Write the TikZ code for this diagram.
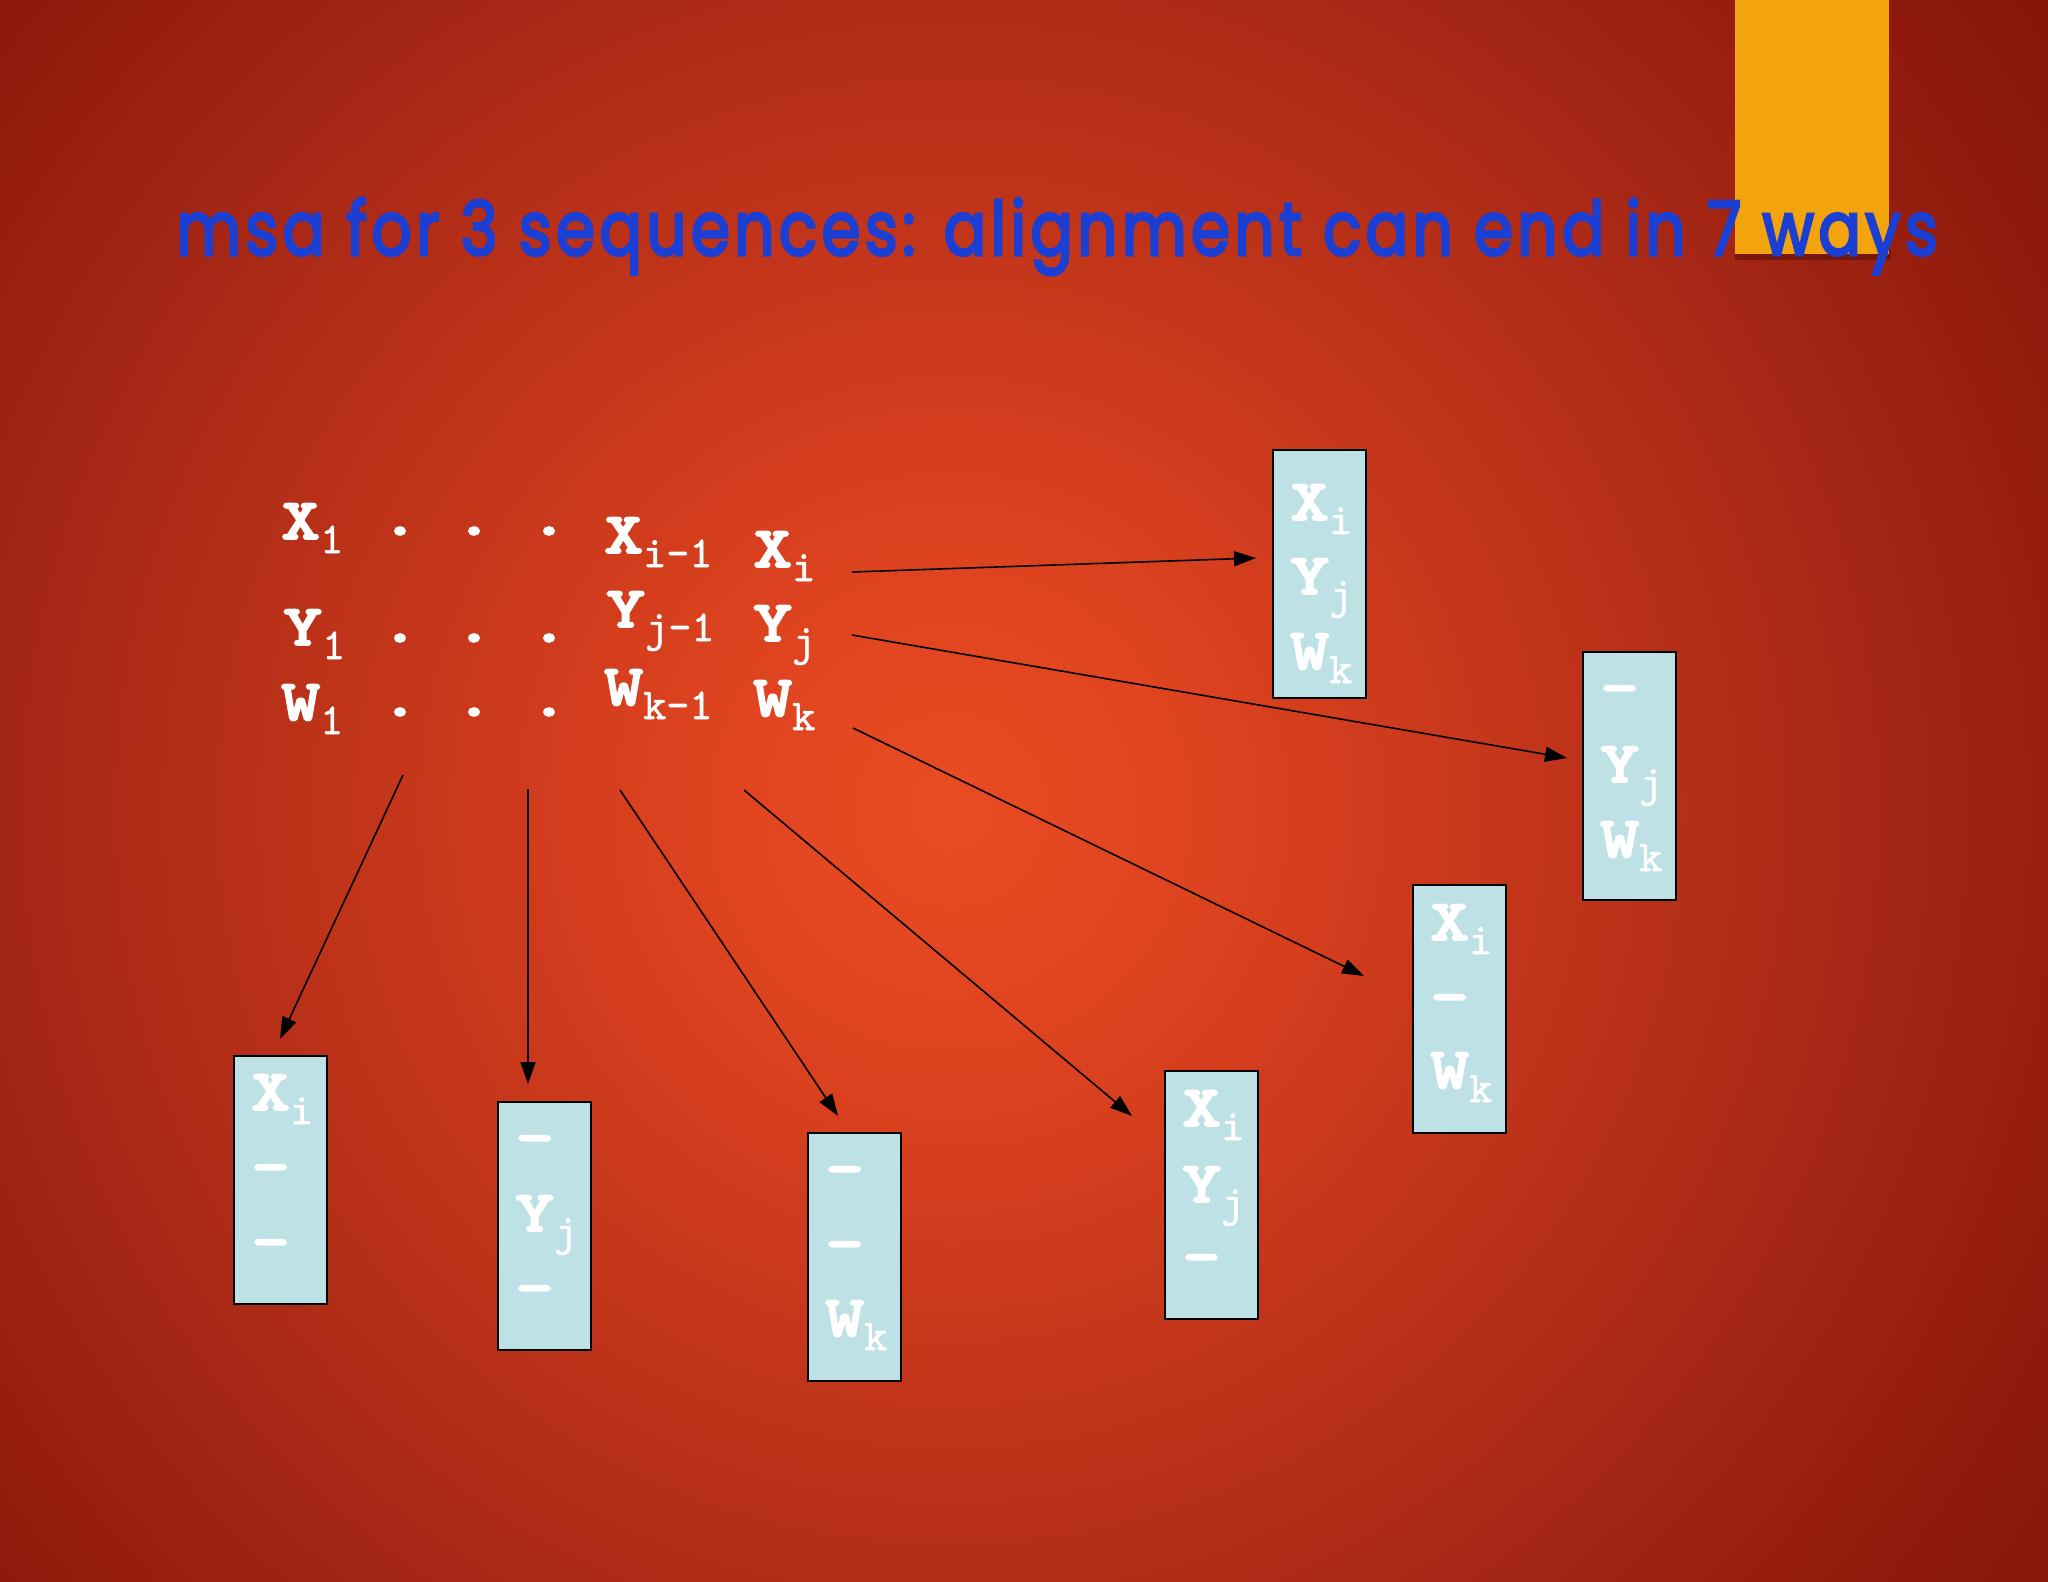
\documentclass[tikz,border=0pt]{standalone}
\usepackage{fontspec}
\usetikzlibrary{arrows.meta,calc}
\newfontfamily\titlefont{Poppins}[FakeBold=4,LetterSpace=7]
\newfontfamily\seqboldfont{lmmonolt10-bold.otf}[FakeBold=3,FakeStretch=1.28]
\newfontfamily\seqsubfont{lmmono10-regular.otf}[FakeBold=1.3]
\definecolor{bgA}{HTML}{E94C22}
\definecolor{bgB}{HTML}{E04420}
\definecolor{bgC}{HTML}{C4361A}
\definecolor{bgD}{HTML}{A82816}
\definecolor{bgE}{HTML}{921B0C}
\definecolor{bgF}{HTML}{82140A}
\definecolor{boxfill}{HTML}{BDE1E4}
\definecolor{titleblue}{HTML}{1B3FD3}
\definecolor{tabgold}{HTML}{F3A30C}
\definecolor{tabshadow}{HTML}{5E0E04}
\pgfdeclareradialshading{bgshade}{\pgfpoint{0bp}{0bp}}{color(0bp)=(bgA); color(4bp)=(bgB); color(10bp)=(bgC); color(16bp)=(bgD); color(21bp)=(bgE); color(25bp)=(bgF); color(50bp)=(bgF)}
\newcommand\seqmain{\seqboldfont\fontsize{58}{70}\selectfont}
\newcommand\seqsub{\seqsubfont\fontsize{44}{52}\selectfont}
\newcommand\sbx[1]{\raisebox{-14pt}{\seqsub #1}}
\tikzset{
  seqtxt/.style={text=white, inner sep=0pt, anchor=base west, font=\seqmain},
  seqdot/.style={text=white, inner sep=0pt, anchor=center, font=\seqmain},
  gapbox/.style={draw=black, line width=2pt, fill=boxfill, minimum width=93pt, minimum height=248pt, inner sep=0pt, anchor=north west},
  arr/.style={draw=black, line width=1.6pt, -{Triangle[length=22pt,width=15pt]}},
}
\begin{document}
\begin{tikzpicture}[x=1pt,y=-1pt]
\useasboundingbox (0,0) rectangle (2048,1582);
\clip (0,0) rectangle (2048,1582);
% background
\shade[shading=bgshade] (-450,-590) rectangle (2350,2210);
% gold tab with shadow
\fill[tabshadow, opacity=0.6] (1735,250) rectangle (1891,260);
\fill[tabgold] (1735,0) rectangle (1889,254);
% title
\node[anchor=base west, inner sep=0pt, text=titleblue] (title) at (176,255)
  {\resizebox{1761pt}{57pt}{\titlefont msa for 3 sequences: alignment can end in 7 ways}};
% sequences
\node[seqtxt] (x1) at (281,539) {X\sbx{1}};
\node[seqtxt] (y1) at (283,645) {Y\sbx{1}};
\node[seqtxt] (w1) at (281,720) {W\sbx{1}};
\node[seqdot] (dx1) at (400,531) {.};
\node[seqdot] (dx2) at (474,531) {.};
\node[seqdot] (dx3) at (549,531) {.};
\node[seqdot] (dy1) at (400,638) {.};
\node[seqdot] (dy2) at (474,638) {.};
\node[seqdot] (dy3) at (549,638) {.};
\node[seqdot] (dw1) at (400,712) {.};
\node[seqdot] (dw2) at (474,712) {.};
\node[seqdot] (dw3) at (549,712) {.};
\node[seqtxt] (xim) at (604,553) {X\sbx{i-1}};
\node[seqtxt] (yjm) at (606,627) {Y\sbx{j-1}};
\node[seqtxt] (wkm) at (604,705) {W\sbx{k-1}};
\node[seqtxt] (xi) at (753,567) {X\sbx{i}};
\node[seqtxt] (yj) at (753,641) {Y\sbx{j}};
\node[seqtxt] (wk) at (753,716) {W\sbx{k}};
% boxes
\node[gapbox] (bA) at (1272,449) {};
\node[gapbox] (bB) at (1582,651) {};
\node[gapbox] (bC) at (233,1055) {};
\node[gapbox] (bD) at (497,1101) {};
\node[gapbox] (bE) at (807,1132) {};
\node[gapbox] (bF) at (1164,1070) {};
\node[gapbox] (bG) at (1412,884) {};
% box A
\node[seqtxt] (aX) at ($(bA.north west)+(18,71)$) {X\sbx{i}};
\node[seqtxt] (aY) at ($(bA.north west)+(18,145)$) {Y\sbx{j}};
\node[seqtxt] (aW) at ($(bA.north west)+(18,220)$) {W\sbx{k}};
% box B
\node[seqtxt] (bX) at ($(bB.north west)+(18,55)$) {-};
\node[seqtxt] (bY) at ($(bB.north west)+(18,131)$) {Y\sbx{j}};
\node[seqtxt] (bW) at ($(bB.north west)+(18,206)$) {W\sbx{k}};
% box C
\node[seqtxt] (cX) at ($(bC.north west)+(18,55)$) {X\sbx{i}};
\node[seqtxt] (cY) at ($(bC.north west)+(18,130)$) {-};
\node[seqtxt] (cW) at ($(bC.north west)+(18,205)$) {-};
% box D
\node[seqtxt] (dX) at ($(bD.north west)+(18,55)$) {-};
\node[seqtxt] (dY) at ($(bD.north west)+(18,130)$) {Y\sbx{j}};
\node[seqtxt] (dW) at ($(bD.north west)+(18,205)$) {-};
% box E
\node[seqtxt] (eX) at ($(bE.north west)+(18,55)$) {-};
\node[seqtxt] (eY) at ($(bE.north west)+(18,130)$) {-};
\node[seqtxt] (eW) at ($(bE.north west)+(18,204)$) {W\sbx{k}};
% box F
\node[seqtxt] (fX) at ($(bF.north west)+(18,56)$) {X\sbx{i}};
\node[seqtxt] (fY) at ($(bF.north west)+(18,132)$) {Y\sbx{j}};
\node[seqtxt] (fW) at ($(bF.north west)+(18,205)$) {-};
% box G
\node[seqtxt] (gX) at ($(bG.north west)+(18,56)$) {X\sbx{i}};
\node[seqtxt] (gY) at ($(bG.north west)+(18,131)$) {-};
\node[seqtxt] (gW) at ($(bG.north west)+(18,204)$) {W\sbx{k}};
% arrow end points
\coordinate (s1) at (852,572);  \coordinate (t1) at (1256,558);
\coordinate (s2) at (852,635);  \coordinate (t2) at (1567,758);
\coordinate (s3) at (853,728);  \coordinate (t3) at (1364,976);
\coordinate (s4) at (744,790);  \coordinate (t4) at (1132,1116);
\coordinate (s5) at (620,790);  \coordinate (t5) at (838,1116);
\coordinate (s6) at (528,789);  \coordinate (t6) at (528,1084);
\coordinate (s7) at (403,775);  \coordinate (t7) at (280,1039);
\draw[arr] (s1) -- (t1);
\draw[arr] (s2) -- (t2);
\draw[arr] (s3) -- (t3);
\draw[arr] (s4) -- (t4);
\draw[arr] (s5) -- (t5);
\draw[arr] (s6) -- (t6);
\draw[arr] (s7) -- (t7);
\end{tikzpicture}
\end{document}
